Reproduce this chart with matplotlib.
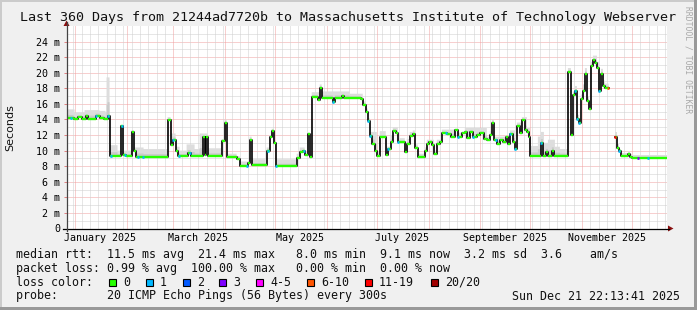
import numpy as np
import pandas as pd
import matplotlib
matplotlib.use('Agg')
import matplotlib.pyplot as plt
import matplotlib.dates as mdates
from matplotlib.lines import Line2D
from matplotlib.patches import Rectangle, Polygon

W, H = 697, 310
MONO = 'DejaVu Sans Mono'

start = pd.Timestamp('2024-12-26 22:13:41')
end = pd.Timestamp('2025-12-21 22:13:41')

# median rtt in ms, step values starting at the given day offset (from start)
med_days = [0.0, 4.2, 6.6, 9.0, 11.4, 12.6, 17.4, 19.8, 22.2, 24.6,
            25.8, 32.4, 33.6, 35.4, 39.0, 40.2, 41.4, 60.6, 62.4, 63.6,
            65.4, 66.6, 72.6, 74.4, 81.6, 82.8, 83.4, 84.6, 93.0, 94.8,
            96.0, 102.0, 103.8, 108.6, 109.8, 111.0, 120.0, 121.8, 123.0, 124.2,
            125.4, 138.0, 139.8, 141.6, 142.8, 144.6, 145.8, 147.0, 150.6, 151.8,
            153.0, 159.6, 160.8, 165.0, 166.2, 176.4, 177.6, 179.4, 180.6, 181.8,
            183.0, 184.8, 186.0, 187.8, 191.4, 192.6, 194.4, 195.6, 197.4, 198.6,
            202.8, 204.0, 205.8, 207.6, 208.8, 210.6, 214.8, 216.0, 217.2, 219.0,
            220.2, 222.0, 223.8, 225.0, 228.0, 230.4, 232.8, 234.6, 237.0, 238.8,
            240.0, 241.8, 243.6, 246.0, 247.8, 250.2, 252.0, 253.8, 255.0, 256.2,
            258.0, 259.8, 261.6, 263.4, 264.6, 265.8, 267.6, 268.8, 270.0, 271.8,
            273.0, 274.8, 276.0, 277.2, 277.8, 284.4, 285.6, 287.4, 288.6, 291.0,
            292.2, 300.6, 302.4, 303.6, 304.8, 306.0, 307.2, 308.4, 309.6, 310.8,
            312.0, 313.2, 314.4, 315.6, 316.8, 318.0, 319.2, 320.4, 321.6, 322.8,
            325.2, 328.8, 330.0, 331.2, 332.4, 336.6, 337.8, 339.0]
med_ms = [14.2, 14.0, 14.3, 14.1, 14.4, 14.1, 14.5, 14.2, 14.0, 14.5,
          9.3, 13.2, 9.5, 9.3, 12.4, 10.0, 9.2, 13.9, 10.7, 11.4,
          10.0, 9.3, 9.7, 9.3, 11.7, 9.5, 11.7, 9.3, 11.2, 13.6,
          9.2, 8.9, 8.0, 8.4, 11.4, 8.1, 10.0, 11.7, 12.5, 11.0,
          8.0, 9.0, 9.8, 9.9, 9.4, 12.1, 9.2, 16.9, 16.5, 18.1,
          16.8, 16.2, 16.8, 17.0, 16.8, 16.6, 15.9, 15.0, 13.8, 11.9,
          10.9, 10.0, 9.3, 11.7, 9.5, 10.2, 11.1, 12.5, 12.2, 11.1,
          9.8, 10.9, 11.9, 12.1, 10.4, 9.2, 10.0, 10.9, 11.1, 10.7,
          9.6, 10.9, 11.1, 12.2, 12.1, 11.8, 12.6, 11.7, 12.2, 12.4,
          11.6, 12.4, 11.7, 12.0, 12.2, 11.5, 11.3, 12.0, 13.6, 11.3,
          10.9, 11.3, 11.1, 11.7, 10.8, 12.1, 11.1, 10.2, 13.2, 12.2,
          13.9, 12.6, 12.4, 11.7, 9.3, 11.0, 9.3, 9.8, 9.3, 9.9,
          9.3, 20.1, 12.0, 17.1, 17.7, 14.1, 13.5, 16.6, 17.7, 19.9,
          16.4, 15.3, 20.8, 21.6, 21.2, 20.6, 17.7, 19.9, 18.3, 18.1,
          np.nan, 11.7, 10.4, 9.9, 9.3, 9.6, 9.2, 9.1]

# top of the ping "smoke" (ms)
smoke_days = [0.0, 4.8, 10.8, 19.8, 23.4, 24.0, 25.8, 30.6, 32.4, 33.6,
              39.0, 40.2, 46.2, 60.6, 62.4, 65.4, 67.8, 72.0, 76.8, 79.8,
              84.6, 93.0, 94.8, 96.0, 102.0, 103.8, 109.8, 111.0, 120.0, 121.8,
              123.0, 124.2, 125.4, 138.0, 139.8, 142.8, 144.6, 145.8, 147.0, 151.8,
              153.0, 163.8, 169.8, 177.6, 179.4, 180.6, 181.8, 186.0, 187.8, 191.4,
              194.4, 195.6, 198.6, 202.8, 204.0, 205.8, 207.6, 208.8, 210.6, 214.8,
              216.0, 220.2, 222.0, 225.0, 234.6, 238.8, 252.0, 253.8, 255.0, 256.2,
              265.8, 268.8, 270.0, 273.0, 276.0, 277.8, 282.6, 284.4, 286.2, 288.6,
              292.8, 295.8, 300.6, 302.4, 303.6, 304.8, 306.0, 307.2, 308.4, 309.6,
              310.8, 312.0, 313.2, 314.4, 315.6, 318.0, 319.2, 320.4, 321.6, 322.8,
              325.2, 328.8, 330.0, 331.2, 332.4, 336.6, 337.8, 339.0]
smoke_ms = [15.3, 14.9, 15.2, 15.1, 14.9, 19.4, 10.7, 10.0, 13.3, 10.0,
            12.6, 10.4, 10.2, 14.3, 12.2, 10.5, 10.0, 10.8, 10.2, 12.2,
            10.3, 11.5, 14.0, 9.6, 9.3, 8.6, 11.8, 8.9, 10.4, 12.0,
            12.8, 11.3, 8.9, 9.6, 10.4, 9.8, 12.3, 9.6, 17.5, 18.5,
            17.6, 17.6, 17.3, 16.3, 15.4, 14.2, 12.4, 9.8, 12.5, 10.5,
            12.0, 13.0, 11.6, 10.3, 11.5, 12.4, 12.6, 10.8, 9.6, 10.4,
            11.4, 10.0, 11.4, 12.7, 12.3, 12.9, 11.8, 12.5, 14.0, 11.8,
            12.6, 10.7, 13.6, 14.3, 12.9, 10.6, 11.8, 12.4, 11.0, 11.4,
            10.5, 10.2, 20.6, 12.6, 17.6, 18.3, 14.6, 14.0, 17.2, 18.5,
            20.6, 17.0, 16.0, 21.4, 22.2, 21.4, 18.9, 20.5, 19.0, 18.6,
            np.nan, 12.4, 10.8, 10.2, 9.7, 10.0, 9.6, 9.5]

# samples with packet loss (index into the loss color legend)
loss_days = [2.4, 17.4, 24.6, 26.4, 33.0, 34.8, 42.6, 45.6, 63.6, 67.2,
             73.8, 108.0, 120.6, 125.4, 142.2, 159.6, 180.6, 181.8, 192.6, 198.6,
             227.4, 234.6, 243.6, 257.4, 265.8, 268.8, 284.4, 304.8, 306.0, 307.2,
             319.2, 331.2, 348.6, 342.6, 324.6, 328.8]
loss_level = [1] * 33 + [3, 5, 6]

loss_labels = ['0', '1', '2', '3', '4-5', '6-10', '11-19', '20/20']
loss_colors = ['#26ff00', '#00b8ff', '#0059ff', '#7e00ff', '#ff00ff',
               '#ff5500', '#ff0000', '#a10000']

legend_rows = [
    'median rtt:  11.5 ms avg  21.4 ms max   8.0 ms min  9.1 ms now  3.2 ms sd  3.6    am/s',
    'packet loss: 0.99 % avg  100.00 % max   0.00 % min  0.00 % now',
]
probe_text = 'probe:       20 ICMP Echo Pings (56 Bytes) every 300s'
stamp_text = 'Sun Dec 21 22:13:41 2025'


def step_at(days, vals, q):
    idx = np.searchsorted(days, q, side='right') - 1
    return np.asarray(vals, dtype=float)[idx]


def fx(x):
    return x / W


def fy(y):
    return 1 - y / H


fig = plt.figure(figsize=(W / 100, H / 100), dpi=100, facecolor='#f0f0f0')
plt.rcParams['font.family'] = MONO

# border shading
fig.patches.append(Rectangle((0, fy(2)), 1, 2 / H, transform=fig.transFigure, color='#cbcbcb', lw=0))
fig.patches.append(Rectangle((0, 0), 2 / W, 1, transform=fig.transFigure, color='#cbcbcb', lw=0))
fig.patches.append(Rectangle((0, 0), 1, 3 / H, transform=fig.transFigure, color='#999999', lw=0))
fig.patches.append(Rectangle((fx(694), 0), 3 / W, 1, transform=fig.transFigure, color='#999999', lw=0))

x0, x1, ytop, ybot = 66.5, 667.0, 26.0, 228.5
ax = fig.add_axes([fx(x0), fy(ybot), fx(x1 - x0), (ybot - ytop) / H])
ax.set_facecolor('white')
for s in ax.spines.values():
    s.set_visible(False)

t0 = mdates.date2num(start)
t1 = mdates.date2num(end)
ax.set_xlim(t0, t1)
ax.set_ylim(0, 26)

dot = (0, (1, 1))
minor_c = '#cfcfcf'
major_c = '#f0a0a0'
# horizontal grid
for v in range(1, 26):
    ax.axhline(v, color=major_c if v % 2 == 0 else minor_c, lw=0.72, ls=dot, zorder=1)
# vertical grid: 5 day minor, month major
months = mdates.date2num(pd.date_range('2025-01-01', '2025-12-01', freq='MS'))
for d in np.arange(np.ceil((t0 - 3) / 5) * 5 + 3, t1, 5):
    if np.min(np.abs(months - d)) > 0.5:
        ax.axvline(d, color=minor_c, lw=0.72, ls=dot, zorder=1)
for d in months:
    ax.axvline(d, color=major_c, lw=0.72, ls=dot, zorder=1)

# smoke
g = np.arange(0, 360, 0.2)
lo = step_at(med_days, med_ms, g)
hi = step_at(smoke_days, smoke_ms, g)
ok = np.isfinite(lo) & np.isfinite(hi)
ax.fill_between(t0 + g, lo, hi, where=ok, step='post', color='#dddddd', lw=0, zorder=2)
ax.fill_between(t0 + g, lo, lo + (hi - lo) * 0.35, where=ok, step='post', color='#cacaca', lw=0, zorder=2)

# median line
mx = t0 + np.array(med_days + [360.0])
my = np.array(med_ms + [med_ms[-1]])
ax.step(mx, my, where='post', color='#000000', lw=1.2, zorder=3)
fin = np.isfinite(my[:-1])
ax.hlines(my[:-1][fin], mx[:-1][fin], mx[1:][fin], color=loss_colors[0], lw=1.7, zorder=4)
for d, lv in zip(loss_days, loss_level):
    v = step_at(med_days, med_ms, d)
    ax.hlines(v, t0 + d - 0.6, t0 + d + 0.6, color=loss_colors[lv], lw=1.9, zorder=5)

# ticks
ax.set_yticks(range(0, 25, 2))
ax.set_yticklabels(['0'] + [f'{v} m' for v in range(2, 25, 2)])
ax.tick_params(axis='y', length=2.2, width=0.7, color='#e08080', pad=2.5, labelsize=7.2)
lab_pos = mdates.date2num(pd.date_range('2025-01-01', '2025-11-01', freq='2MS') + pd.Timedelta(days=15))
ax.set_xticks(lab_pos)
ax.set_xticklabels([mdates.num2date(p).strftime('%B %Y') for p in lab_pos])
ax.tick_params(axis='x', length=0, pad=3.2, labelsize=7.2)

# axes lines and arrows
fig.add_artist(Line2D([fx(62.5), fx(669)], [fy(ybot), fy(ybot)], color='#000000', lw=0.9))
fig.add_artist(Line2D([fx(x0), fx(x0)], [fy(231), fy(22)], color='#444444', lw=0.9))
fig.add_artist(Polygon([(fx(668), fy(225.5)), (fx(668), fy(231.5)), (fx(673.5), fy(228.5))],
                       closed=True, transform=fig.transFigure, color='#8b1010', lw=0))
fig.add_artist(Polygon([(fx(63.5), fy(26)), (fx(69.5), fy(26)), (fx(66.5), fy(20.5))],
                       closed=True, transform=fig.transFigure, color='#8b1010', lw=0))

# texts
fig.text(fx(20), fy(18), 'Last 360 Days from 21244ad7720b to Massachusetts Institute of Technology Webserver',
         fontsize=9.6, va='center', ha='left', color='#111111')
fig.text(fx(10), fy(128), 'Seconds', rotation=90, family='DejaVu Sans', fontsize=8,
         va='center', ha='center', color='#111111')
fig.text(fx(688), fy(60), 'RRDTOOL / TOBI OETIKER', rotation=-90, fontsize=5.8,
         va='center', ha='center', color='#a8a8a8')

fs = 8.35
for y, t in zip([254.5, 268.3], legend_rows):
    fig.text(fx(16), fy(y), t, fontsize=fs, va='center', ha='left', color='#111111')

fig.text(fx(16), fy(282.3), 'loss color:', fontsize=fs, va='center', ha='left', color='#111111')
box_x = [109, 146, 183, 219, 256, 307, 365, 431]
for bx, lab, c in zip(box_x, loss_labels, loss_colors):
    fig.patches.append(Rectangle((fx(bx), fy(286)), 7 / W, 7 / H, transform=fig.transFigure,
                                 facecolor=c, edgecolor='#000000', lw=0.8))
    fig.text(fx(bx + 14), fy(282.3), lab, fontsize=fs, va='center', ha='left', color='#111111')

fig.text(fx(16), fy(296), probe_text, fontsize=fs, va='center', ha='left', color='#111111')
fig.text(fx(680), fy(296), stamp_text, fontsize=fs, va='center', ha='right', color='#111111')

fig.savefig('out.png', dpi=100, facecolor=fig.get_facecolor())
